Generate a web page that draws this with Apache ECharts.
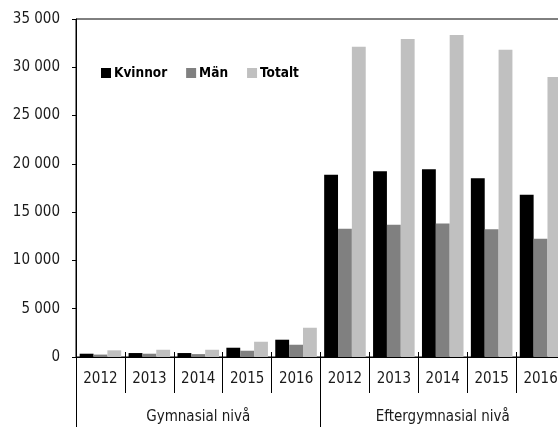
<!DOCTYPE html>
<html>
<head>
<meta charset="utf-8">
<script src="https://cdn.jsdelivr.net/npm/echarts@6/dist/echarts.min.js"></script>
<style>
  html, body { margin: 0; padding: 0; background: #fff; overflow: hidden; }
  /* the original chart is cut off on the right, so the canvas is wider than the window */
  #chart { width: 580px; height: 427px; }
</style>
</head>
<body>
<div id="chart"></div>
<script>
// years inside each level
const years = ['2012', '2013', '2014', '2015', '2016', '2012', '2013', '2014', '2015', '2016']
const levels = ['Gymnasial nivå', 'Eftergymnasial nivå']
const seriesNames = ['Kvinnor', 'Män', 'Totalt']

const kvinnor = [340, 410, 410, 960, 1790, 18860, 19240, 19450, 18520, 16790]
const man = [250, 340, 300, 650, 1270, 13270, 13690, 13820, 13240, 12240]
const totalt = [690, 750, 750, 1580, 3030, 32130, 32930, 33340, 31820, 29000]

const colors = ['#000000', '#808080', '#c0c0c0']
const font = '"DejaVu Sans Condensed", "DejaVu Sans", sans-serif'

function thousands(v) {
  return String(v).replace(/\B(?=(\d{3})+(?!\d))/g, ' ')
}

const chart = echarts.init(document.getElementById('chart'))
chart.setOption({
  animation: false,
  color: colors,
  textStyle: { fontFamily: font },
  grid: {
    left: 76, top: 19, width: 489, height: 338,
    show: true, borderColor: '#000', borderWidth: 1, backgroundColor: 'transparent'
  },
  legend: {
    left: 96, top: 61,
    itemWidth: 10, itemHeight: 10, itemGap: 19,
    icon: 'rect',
    textStyle: { fontFamily: font, fontWeight: 'bold', fontSize: 13.5, color: '#000', padding: [0, 0, 0, -2] },
    data: seriesNames
  },
  xAxis: [
    {
      type: 'category',
      data: years,
      position: 'bottom',
      axisLine: { show: true, lineStyle: { color: '#000', width: 1 } },
      axisTick: { show: true, interval: 0, length: 36, lineStyle: { color: '#000' } },
      axisLabel: { interval: 0, margin: 15, fontSize: 15, color: '#1a1a1a', fontFamily: font }
    },
    {
      type: 'category',
      data: years,
      position: 'bottom',
      axisLine: { show: false },
      axisTick: { show: true, inside: true, interval: 0, length: 5, lineStyle: { color: '#000' } },
      axisLabel: { show: false }
    },
    {
      type: 'category',
      data: levels,
      position: 'bottom',
      axisLine: { show: false },
      axisTick: { show: true, interval: 0, length: 80, lineStyle: { color: '#000' } },
      axisLabel: { interval: 0, margin: 53, fontSize: 15, color: '#1a1a1a', fontFamily: font }
    }
  ],
  yAxis: {
    type: 'value',
    min: 0, max: 35000, interval: 5000,
    splitLine: { show: false },
    axisLine: { show: true, lineStyle: { color: '#000', width: 1 } },
    axisTick: { show: true, length: 4, lineStyle: { color: '#000' } },
    axisLabel: { margin: 16, fontSize: 15, color: '#1a1a1a', fontFamily: font, formatter: thousands }
  },
  series: [
    { name: seriesNames[0], type: 'bar', data: kvinnor, barGap: '0%', barCategoryGap: '15%' },
    { name: seriesNames[1], type: 'bar', data: man, barGap: '0%', barCategoryGap: '15%' },
    { name: seriesNames[2], type: 'bar', data: totalt, barGap: '0%', barCategoryGap: '15%' }
  ]
})
</script>
</body>
</html>
